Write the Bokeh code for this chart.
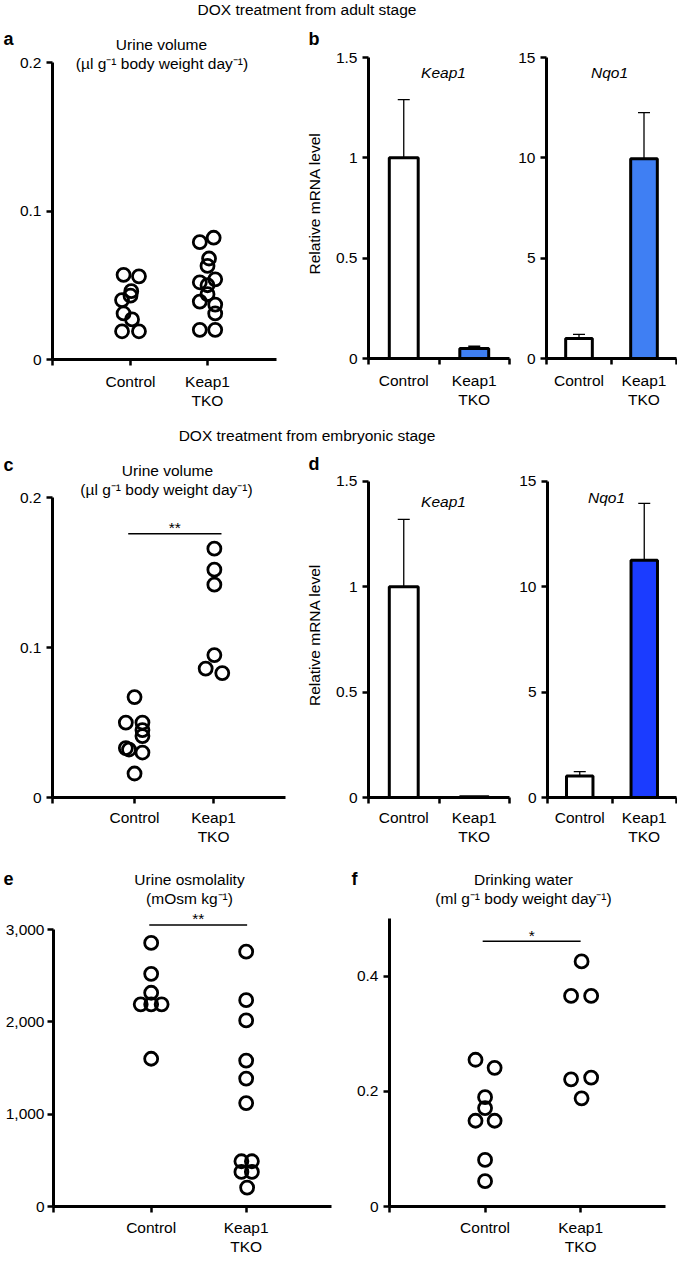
import numpy as np
from bokeh.plotting import figure
from bokeh.layouts import column, row
from bokeh.models import Range1d, FixedTicker, Label, Whisker, TeeHead, ColumnDataSource
from bokeh.embed import file_html
from bokeh.resources import INLINE

# ---------------- data ----------------
group_pos = [1, 2]
group_labels = ["Control", "Keap1\nTKO"]
bar_pos = [0.5, 1.5]

header_adult = "DOX treatment from adult stage"
header_embryo = "DOX treatment from embryonic stage"

# a: urine volume, DOX from adult stage
a_ctrl = [0.057, 0.056, 0.046, 0.043, 0.040, 0.031, 0.027, 0.019, 0.019]
a_ctrl_jit = [-0.09, 0.11, 0.01, 0.0, -0.11, -0.09, 0.02, -0.11, 0.11]
a_tko = [0.082, 0.079, 0.068, 0.063, 0.054, 0.052, 0.050, 0.044, 0.039, 0.037, 0.031, 0.020, 0.020]
a_tko_jit = [0.08, -0.10, 0.02, 0.0, 0.10, -0.10, 0.0, 0.0, -0.10, 0.10, 0.10, -0.10, 0.10]
a_yticks = [0, 0.1, 0.2]
a_ylabels = ["0", "0.1", "0.2"]

# b: relative mRNA level, adult stage
b_keap1 = [1.00, 0.05]
b_keap1_sd = [0.29, 0.011]
b_nqo1 = [1.0, 9.95]
b_nqo1_sd = [0.2, 2.3]

# c: urine volume, DOX from embryonic stage
c_ctrl = [0.067, 0.050, 0.050, 0.045, 0.041, 0.033, 0.032, 0.030, 0.016]
c_ctrl_jit = [0.0, -0.11, 0.10, 0.10, 0.10, -0.11, -0.07, 0.10, 0.0]
c_tko = [0.166, 0.152, 0.142, 0.095, 0.086, 0.083]
c_tko_jit = [0.01, 0.01, 0.01, 0.01, -0.10, 0.11]
c_sig = (0.92, 2.10, 0.176, "**")

# d: relative mRNA level, embryonic stage
d_keap1 = [1.00, 0.004]
d_keap1_sd = [0.32, 0.0]
d_nqo1 = [1.02, 11.26]
d_nqo1_sd = [0.21, 2.70]

keap1_yticks = [0, 0.5, 1, 1.5]
keap1_ylabels = ["0", "0.5", "1", "1.5"]
nqo1_yticks = [0, 5, 10, 15]
nqo1_ylabels = ["0", "5", "10", "15"]

# e: urine osmolality
e_ctrl = [2855, 2520, 2315, 2190, 2190, 2190, 1600]
e_ctrl_jit = [0, 0, 0, -0.11, 0, 0.11, 0]
e_tko = [2760, 2235, 2015, 1580, 1385, 1120, 490, 490, 375, 375, 205]
e_tko_jit = [0, 0, 0, 0, 0, 0, -0.05, 0.06, -0.05, 0.06, 0.01]
e_yticks = [0, 1000, 2000, 3000]
e_ylabels = ["0", "1,000", "2,000", "3,000"]
e_sig = (0.98, 2.01, 3050, "**")

# f: drinking water
f_ctrl = [0.255, 0.241, 0.190, 0.171, 0.149, 0.149, 0.081, 0.044]
f_ctrl_jit = [-0.10, 0.10, 0, 0, -0.10, 0.10, 0, 0]
f_tko = [0.426, 0.366, 0.366, 0.221, 0.224, 0.188]
f_tko_jit = [0.01, -0.10, 0.11, -0.10, 0.11, 0.01]
f_yticks = [0, 0.2, 0.4]
f_ylabels = ["0", "0.2", "0.4"]
f_sig = (0.975, 2.0, 0.461, "*")

# ---------------- styling ----------------
FONT = "Liberation Sans"
FS = "15.5px"
BLUE_B = "#3F7FF3"
BLUE_D = "#1B3CFF"
PAGE_W = 677
ADJ = 5  # baseline correction for Label text


def make_fig(left, top, w, h, fl, fr, fb, y_axis_top, ymax, xr):
    L = fl - left
    R = left + w - fr
    B = top + h - fb
    frame_h = fb - top
    yend = ymax * frame_h / (fb - y_axis_top)
    p = figure(width=w, height=h, x_range=Range1d(*xr), y_range=Range1d(0, yend),
               toolbar_location=None, tools="", output_backend="svg",
               title_location=None, min_border_left=L, min_border_right=R,
               min_border_top=0, min_border_bottom=B)
    p.xgrid.visible = False
    p.ygrid.visible = False
    p.outline_line_color = None
    p.background_fill_color = "white"
    p.border_fill_color = "white"
    p.yaxis[0].bounds = (0, ymax)
    return p, (fl, fb)


def strip(left, top, w, h):
    p = figure(width=w, height=h, x_range=Range1d(0, 1), y_range=Range1d(0, 1),
               toolbar_location=None, tools="", output_backend="svg",
               x_axis_location=None, y_axis_location=None, min_border=0,
               title_location=None)
    p.outline_line_color = None
    p.xgrid.visible = False
    p.ygrid.visible = False
    return p, (left, top + h)


def txt(p, geo, px, py, text, size=FS, style="normal", align="center"):
    fl, fb = geo
    p.add_layout(Label(x=px - fl, y=fb - py + ADJ, x_units="screen", y_units="screen",
                       text=text, text_font=FONT, text_font_size=size,
                       text_font_style=style, text_align=align,
                       text_baseline="alphabetic", text_color="black"))


def style_axes(p, xticks, xminor, xlabels, yticks, ylabels, bar=False, xstandoff=7):
    xa = p.xaxis[0]
    ya = p.yaxis[0]
    xa.ticker = FixedTicker(ticks=xticks, minor_ticks=xminor)
    xa.major_label_overrides = dict(zip(xticks, xlabels))
    ya.ticker = FixedTicker(ticks=yticks, minor_ticks=[])
    ya.major_label_overrides = dict(zip(yticks, ylabels))
    for ax in (xa, ya):
        ax.axis_line_width = 3
        ax.axis_line_color = "black"
        ax.major_tick_line_width = 2.5
        ax.major_tick_line_color = "black"
        ax.major_tick_in = 0
        ax.major_tick_out = 6
        ax.minor_tick_line_width = 2.5
        ax.minor_tick_line_color = "black"
        ax.minor_tick_in = 0
        ax.minor_tick_out = 6
        ax.major_label_text_font = FONT
        ax.major_label_text_font_size = FS
        ax.major_label_text_color = "black"
    xa.major_label_text_line_height = 1.15
    xa.major_label_standoff = xstandoff
    ya.major_label_standoff = 5
    if bar:
        xa.major_tick_line_color = None


def ylabel(p, text):
    ya = p.yaxis[0]
    ya.axis_label = text
    ya.axis_label_text_font = FONT
    ya.axis_label_text_font_size = FS
    ya.axis_label_text_font_style = "normal"
    ya.axis_label_text_color = "black"
    ya.axis_label_standoff = 10


def swarm(p, ctrl, ctrl_jit, tko, tko_jit):
    xs = list(np.array(ctrl_jit) + group_pos[0]) + list(np.array(tko_jit) + group_pos[1])
    ys = list(ctrl) + list(tko)
    p.scatter(xs, ys, marker="circle", size=13, fill_color=None,
              line_color="black", line_width=2.8)


def sig(p, s):
    x0, x1, y, star = s
    p.segment(x0=[x0], y0=[y], x1=[x1], y1=[y], line_color="black", line_width=1.5)
    p.add_layout(Label(x=(x0 + x1) / 2, y=y, text=star, text_font=FONT, text_font_size=FS,
                       text_align="center", text_baseline="alphabetic", y_offset=1 + ADJ,
                       text_color="black"))


def bars(p, means, sds, colors):
    upper = [m + s for m, s in zip(means, sds)]
    src = ColumnDataSource(dict(x=bar_pos, lower=means, upper=upper))
    p.add_layout(Whisker(source=src, base="x", lower="lower", upper="upper",
                         line_color="black", line_width=1.3,
                         upper_head=TeeHead(size=12, line_color="black", line_width=1.3),
                         lower_head=None))
    p.vbar(x=bar_pos, top=means, width=0.41, bottom=0, fill_color=colors,
           line_color="black", line_width=3)


# ================= group 1: DOX from adult stage =================
h1, gh1 = strip(0, 0, PAGE_W, 24)
txt(h1, gh1, 306.5, 14, header_adult)

sa, gsa = strip(0, 24, 300, 29)
txt(sa, gsa, 3, 43, "a", size="18px", style="bold", align="left")
txt(sa, gsa, 161, 49, "Urine volume")

fa, ga = make_fig(0, 53, 300, 359, 52, 276, 359, 62, 0.2, (-0.013, 2.896))
style_axes(fa, group_pos, [-0.013], group_labels, a_yticks, a_ylabels)
swarm(fa, a_ctrl, a_ctrl_jit, a_tko, a_tko_jit)
txt(fa, ga, 161.5, 67.7, "(µl g\u207b\u00b9 body weight day\u207b\u00b9)")

sb, gsb = strip(300, 24, 377, 24)
txt(sb, gsb, 308, 43, "b", size="18px", style="bold", align="left")

fb1, gb1 = make_fig(300, 48, 212, 364, 368, 509, 358, 57, 1.5, (0, 2))
style_axes(fb1, bar_pos, [0, 1, 2], group_labels, keap1_yticks, keap1_ylabels, bar=True)
ylabel(fb1, "Relative mRNA level")
bars(fb1, b_keap1, b_keap1_sd, ["white", BLUE_B])
txt(fb1, gb1, 443, 77, "Keap1", style="italic")

fb2, gb2 = make_fig(512, 48, 165, 364, 546, 676, 358, 57, 15, (0, 2))
style_axes(fb2, bar_pos, [0, 1, 2], group_labels, nqo1_yticks, nqo1_ylabels, bar=True)
bars(fb2, b_nqo1, b_nqo1_sd, ["white", BLUE_B])
txt(fb2, gb2, 609, 77, "Nqo1", style="italic")

# ================= group 2: DOX from embryonic stage =================
h2, gh2 = strip(0, 412, PAGE_W, 37)
txt(h2, gh2, 306.5, 440, header_embryo)

sc, gsc = strip(0, 449, 300, 30)
txt(sc, gsc, 3, 469, "c", size="18px", style="bold", align="left")
txt(sc, gsc, 167, 474.5, "Urine volume")

fc, gc = make_fig(0, 479, 300, 369, 52, 285, 798, 497.3, 0.2, (-0.038, 2.91))
style_axes(fc, group_pos, [-0.038], group_labels, a_yticks, a_ylabels, xstandoff=5)
swarm(fc, c_ctrl, c_ctrl_jit, c_tko, c_tko_jit)
sig(fc, c_sig)
txt(fc, gc, 166, 495, "(µl g\u207b\u00b9 body weight day\u207b\u00b9)")

sd, gsd = strip(300, 449, 377, 23)
txt(sd, gsd, 308, 468, "d", size="18px", style="bold", align="left")

fd1, gd1 = make_fig(300, 472, 212, 376, 368, 509, 798, 481, 1.5, (0, 2))
style_axes(fd1, bar_pos, [0, 1, 2], group_labels, keap1_yticks, keap1_ylabels, bar=True, xstandoff=5)
ylabel(fd1, "Relative mRNA level")
bars(fd1, d_keap1, d_keap1_sd, ["white", BLUE_D])
txt(fd1, gd1, 443, 507, "Keap1", style="italic")

fd2, gd2 = make_fig(512, 472, 165, 376, 547, 676, 798, 481, 15, (0, 2))
style_axes(fd2, bar_pos, [0, 1, 2], group_labels, nqo1_yticks, nqo1_ylabels, bar=True, xstandoff=5)
bars(fd2, d_nqo1, d_nqo1_sd, ["white", BLUE_D])
txt(fd2, gd2, 606, 503, "Nqo1", style="italic")

# ================= group 3: osmolality and drinking water =================
s3, gs3 = strip(0, 848, PAGE_W, 40)
txt(s3, gs3, 3, 883, "e", size="18px", style="bold", align="left")
txt(s3, gs3, 351, 883, "f", size="18px", style="bold", align="left")
txt(s3, gs3, 189, 883.5, "Urine osmolality")
txt(s3, gs3, 523, 883.5, "Drinking water")

fe, ge = make_fig(0, 888, 340, 370, 53, 331, 1206, 929, 3000, (-0.028, 2.898))
style_axes(fe, group_pos, [-0.028], group_labels, e_yticks, e_ylabels, xstandoff=6)
fe.yaxis[0].major_label_standoff = 3
swarm(fe, e_ctrl, e_ctrl_jit, e_tko, e_tko_jit)
sig(fe, e_sig)
txt(fe, ge, 189, 902.7, "(mOsm kg\u207b\u00b9)")

ff, gf = make_fig(340, 888, 337, 370, 389, 665, 1206, 918.3, 0.5, (0, 2.888))
style_axes(ff, group_pos, [0], group_labels, f_yticks, f_ylabels, xstandoff=6)
swarm(ff, f_ctrl, f_ctrl_jit, f_tko, f_tko_jit)
sig(ff, f_sig)
txt(ff, gf, 523, 902.7, "(ml g\u207b\u00b9 body weight day\u207b\u00b9)")

# strips are wrapped in rows so that their frames are not aligned with the
# plot frames below them
layout = column(
    h1,
    row(column(row(sa), row(fa)), column(row(sb), row(fb1, fb2))),
    h2,
    row(column(row(sc), row(fc)), column(row(sd), row(fd1, fd2))),
    s3,
    row(fe, ff),
)

with open("out.html", "w") as fh:
    fh.write(file_html(layout, INLINE))
